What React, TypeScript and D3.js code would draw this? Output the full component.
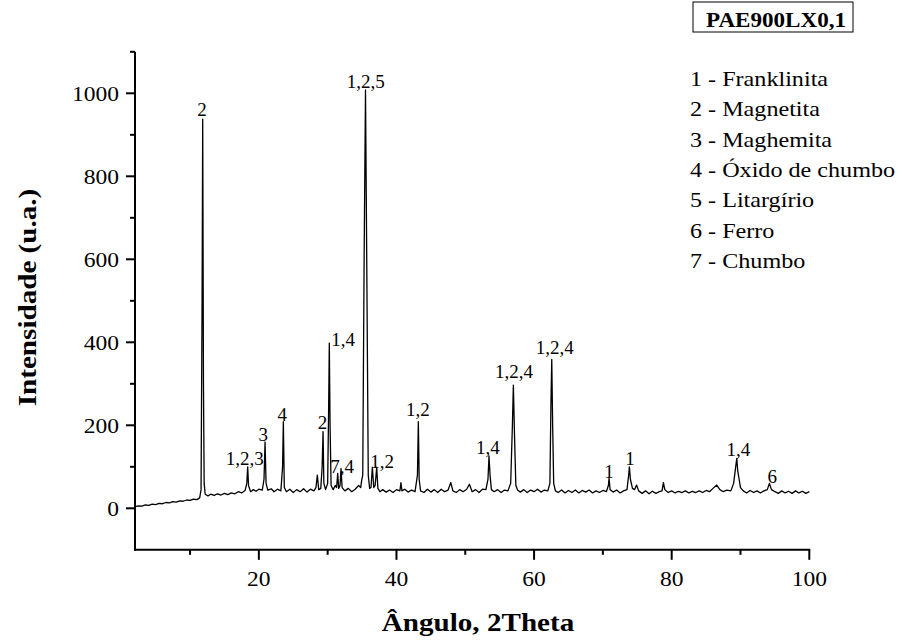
import React from 'react';
import * as d3 from 'd3';

// XRD scan (2Theta, counts)
const scanAngle = [
  2.0, 2.5, 3.0, 3.5, 4.0, 4.5, 5.0, 5.5, 6.0, 6.5, 7.0, 7.5, 8.0, 8.5, 9.0, 9.5, 10.0, 10.5, 11.0, 11.4,
  11.6, 11.75, 11.84, 11.95, 12.05, 12.2, 12.6, 13.0, 13.5, 14.0, 14.5, 15.0, 15.5, 16.0, 16.5, 17.0, 17.5, 18.0,
  18.25, 18.38, 18.5, 18.8, 19.2, 19.6, 20.0, 20.5, 20.75, 20.9, 21.05, 21.3, 21.8, 22.2, 22.7, 23.2, 23.45, 23.56,
  23.7, 24.0, 24.5, 25.0, 25.5, 26.0, 26.5, 27.0, 27.5, 28.0, 28.3, 28.5, 28.7, 29.0, 29.2, 29.33, 29.45, 29.7,
  30.0, 30.15, 30.24, 30.35, 30.5, 30.8, 31.1, 31.3, 31.46, 31.6, 31.8, 31.94, 32.1, 32.5, 33.0, 33.5, 34.0, 34.5,
  34.8, 34.95, 35.1, 35.3, 35.5, 35.7, 35.9, 36.1, 36.3, 36.5, 36.7, 36.9, 37.13, 37.3, 37.6, 38.0, 38.5, 39.0,
  39.5, 40.0, 40.5, 40.65, 40.8, 41.2, 41.7, 42.2, 42.7, 43.05, 43.18, 43.3, 43.5, 44.0, 44.5, 45.0, 45.5, 46.0,
  46.5, 47.0, 47.5, 47.9, 48.2, 48.7, 49.2, 49.7, 50.2, 50.6, 51.0, 51.5, 52.0, 52.5, 53.0, 53.3, 53.45, 53.6,
  53.8, 54.2, 54.7, 55.2, 55.7, 56.2, 56.6, 56.85, 56.99, 57.15, 57.35, 57.6, 58.0, 58.5, 59.0, 59.5, 60.0, 60.5,
  61.0, 61.5, 62.0, 62.3, 62.45, 62.57, 62.7, 62.85, 63.1, 63.5, 64.0, 64.5, 65.0, 65.5, 66.0, 66.5, 67.0, 67.5,
  68.0, 68.5, 69.0, 69.5, 70.0, 70.5, 70.8, 70.9, 71.05, 71.5, 72.0, 72.5, 73.0, 73.5, 73.75, 73.85, 74.0, 74.3,
  74.6, 74.9, 75.2, 75.7, 76.2, 76.7, 77.2, 77.7, 78.2, 78.6, 78.8, 79.0, 79.5, 80.0, 80.5, 81.0, 81.5, 82.0,
  82.5, 83.0, 83.5, 84.0, 84.5, 85.0, 85.5, 86.0, 86.55, 87.0, 87.5, 88.0, 88.6, 89.0, 89.3, 89.46, 89.6, 89.8,
  90.0, 90.4, 90.9, 91.4, 91.9, 92.4, 92.9, 93.4, 93.9, 94.2, 94.5, 95.0, 95.5, 96.0, 96.5, 97.0, 97.5, 98.0,
  98.5, 99.0, 99.5, 100.0,
];
const scanCounts = [
  4, 6, 5, 8, 7, 10, 9, 12, 11, 14, 13, 16, 15, 18, 17, 20, 19, 22, 21, 25,
  45, 500, 938, 300, 60, 34, 30, 34, 31, 35, 32, 36, 33, 37, 35, 40, 37, 43,
  60, 100, 55, 40, 45, 41, 46, 44, 70, 160, 60, 44, 47, 40, 46, 42, 100, 209,
  50, 40, 46, 38, 45, 40, 47, 39, 46, 42, 50, 80, 45, 48, 100, 185, 60, 45,
  60, 250, 398, 200, 55, 45, 55, 50, 84, 48, 55, 96, 50, 42, 48, 40, 46, 55,
  50, 68, 80, 600, 1008, 550, 80, 48, 50, 99, 50, 55, 99, 48, 40, 45, 39, 44,
  38, 45, 42, 62, 42, 46, 39, 44, 40, 80, 209, 70, 42, 38, 46, 39, 45, 38,
  46, 40, 44, 62, 42, 38, 45, 40, 46, 58, 40, 45, 38, 46, 45, 70, 126, 80,
  45, 40, 45, 38, 44, 42, 60, 200, 297, 180, 55, 44, 39, 45, 38, 44, 40, 46,
  39, 44, 42, 60, 250, 359, 200, 60, 42, 38, 44, 37, 43, 38, 44, 37, 43, 39,
  44, 37, 42, 38, 43, 40, 55, 72, 45, 39, 44, 37, 42, 45, 80, 100, 70, 48,
  45, 56, 42, 36, 42, 35, 41, 36, 40, 42, 62, 45, 38, 42, 37, 41, 38, 42,
  37, 41, 38, 42, 38, 43, 40, 48, 56, 45, 40, 44, 42, 60, 100, 120, 90, 70,
  50, 42, 37, 43, 38, 42, 37, 42, 45, 60, 45, 40, 36, 42, 37, 41, 36, 42,
  37, 41, 36, 40,
];

// peak labels: text, 2Theta and counts of the text baseline centre
const peakLabels = ['2', '1,2,5', '1,4', '1,2,3', '3', '4', '2', '7,4', '1,2', '1,2', '1,4', '1,2,4', '1,2,4', '1', '1', '1,4', '6'];
const peakLabelAngle = [11.75, 35.55, 32.23, 17.94, 20.65, 23.4, 29.25, 32.1, 37.9, 43.1, 53.3, 57.1, 63.0, 70.9, 73.95, 89.7, 94.6];
const peakLabelCounts = [945, 1013, 391, 104, 162, 210, 191, 84, 98, 222, 130, 313, 373, 72, 104, 126, 62];

const phases = ['1 - Franklinita', '2 - Magnetita', '3 - Maghemita', '4 - Óxido de chumbo', '5 - Litargírio', '6 - Ferro', '7 - Chumbo'];

const xMajorTicks = [20, 40, 60, 80, 100];
const xMinorTicks = [10, 30, 50, 70, 90];
const yMajorTicks = [0, 200, 400, 600, 800, 1000];
const yMinorTicks = [100, 300, 500, 700, 900, 1100];

const sampleName = 'PAE900LX0,1';

const serif = '"Liberation Serif", "Times New Roman", serif';

export default function App() {
  const width = 902;
  const height = 641;

  const x = d3.scaleLinear().domain([2, 100]).range([135, 809.3]);
  const y = d3.scaleLinear().domain([-100, 1100]).range([549.8, 51.8]);

  const line = d3.line<number>()
    .x((d, i) => x(scanAngle[i]))
    .y(d => y(d));

  const x0 = x.range()[0];
  const yBottom = y.range()[0];

  return (
    <svg width={width} height={height} style={{ position: 'absolute', left: 0, top: 0 }}
      fontFamily={serif}>
      <rect width={width} height={height} fill="#fff" />

      <path d={line(scanCounts) || ''} fill="none" stroke="#000" strokeWidth={1.3} strokeLinejoin="round" />

      {/* axes */}
      <line x1={x0} x2={x0} y1={y(1100)} y2={yBottom + 1} stroke="#000" strokeWidth={2} />
      <line x1={x0 - 1} x2={x(100) + 1} y1={yBottom} y2={yBottom} stroke="#000" strokeWidth={2} />

      {yMajorTicks.map(t => (
        <g key={'ym' + t}>
          <line x1={x0 - 9} x2={x0} y1={y(t)} y2={y(t)} stroke="#000" strokeWidth={2} />
          <text x={0} y={0} fontSize={22} textAnchor="end"
            transform={`translate(${x0 - 16},${y(t) + 8}) scale(1.07,1)`}>{t}</text>
        </g>
      ))}
      {yMinorTicks.map(t => (
        <line key={'yn' + t} x1={x0 - 5} x2={x0} y1={y(t)} y2={y(t)} stroke="#000" strokeWidth={2} />
      ))}
      {xMajorTicks.map(t => (
        <g key={'xm' + t}>
          <line x1={x(t)} x2={x(t)} y1={yBottom} y2={yBottom + 10} stroke="#000" strokeWidth={2} />
          <text x={0} y={0} fontSize={22} textAnchor="middle"
            transform={`translate(${x(t)},${yBottom + 36}) scale(1.07,1)`}>{t}</text>
        </g>
      ))}
      {xMinorTicks.map(t => (
        <line key={'xn' + t} x1={x(t)} x2={x(t)} y1={yBottom} y2={yBottom + 5} stroke="#000" strokeWidth={2} />
      ))}

      {/* axis titles */}
      <text fontSize={26} fontWeight="bold" textAnchor="middle"
        transform={`translate(478,631) scale(1.12,1)`}>Ângulo, 2Theta</text>
      <text fontSize={26} fontWeight="bold" textAnchor="middle"
        transform={`translate(36,297.5) rotate(-90) scale(1.12,1)`}>Intensidade (u.a.)</text>

      {/* peak labels */}
      {peakLabels.map((lab, i) => (
        <text key={'pk' + i} x={x(peakLabelAngle[i])} y={y(peakLabelCounts[i])}
          fontSize={19} textAnchor="middle" fill="#000">{lab}</text>
      ))}

      {/* sample box */}
      <rect x={693} y={2} width={160} height={30} fill="#fff" stroke="#000" strokeWidth={1} />
      <text fontSize={21} fontWeight="bold" textAnchor="middle"
        transform={`translate(776,26.5) scale(1.1,1)`}>{sampleName}</text>

      {/* phase legend */}
      {phases.map((p, i) => (
        <text key={p} fontSize={21}
          transform={`translate(690,${86 + i * 30.3}) scale(1.15,1)`}>{p}</text>
      ))}
    </svg>
  );
}
